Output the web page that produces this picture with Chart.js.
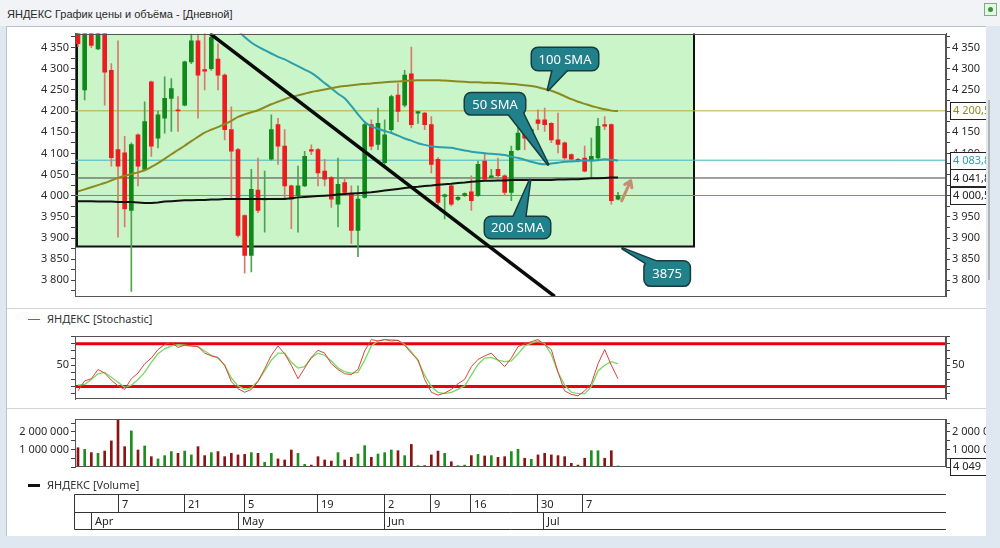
<!DOCTYPE html>
<html lang="ru">
<head>
<meta charset="utf-8">
<title>ЯНДЕКС График цены и объёма</title>
<script src="https://cdn.jsdelivr.net/npm/chart.js@4.4.1/dist/chart.umd.min.js"></script>
<style>
  html, body { margin: 0; padding: 0; }
  body { width: 1000px; height: 548px; overflow: hidden; position: relative; background: #dfe7f1;
         font-family: "Noto Sans", "Open Sans", sans-serif; color: #222; }
  #titleBar { position: absolute; left: 0; top: 0; width: 1000px; height: 26px; background: #f1f3f6; }
  #titleBar span { position: absolute; left: 7px; top: 8px; font-size: 11px; color: #2a2a2a;
                   font-family: "Liberation Sans", "Noto Sans", sans-serif; }
  #appIcon { position: absolute; left: 984px; top: 3px; width: 13px; height: 13px; background: #e9f5e9;
             border: 1px solid #7bb07b; box-sizing: border-box; }
  #appIcon b { position: absolute; left: 3px; top: 3px; width: 5px; height: 5px; background: #2e9b2e; border-radius: 50%; }
  #panel { position: absolute; left: 6px; top: 26px; width: 980px; height: 510px; background: #fff;
           border-top: 1px solid #b9c3ce; border-left: 1px solid #b9c3ce; box-sizing: border-box; }
  .sep { position: absolute; left: 7px; width: 979px; height: 1px; background: #d3d3d3; }
  canvas { position: absolute; left: 0; }
  .legend { position: absolute; font-size: 11px; color: #333; white-space: nowrap; }
  .legend i { display: inline-block; width: 12px; vertical-align: middle; margin-right: 7px; position: relative; top: -1px; }
  #scroll { position: absolute; left: 986px; top: 26px; width: 14px; height: 522px; background: #dfe7f1; }
  #thumb { position: absolute; left: 2px; top: 74px; width: 2px; height: 180px; background: #b5b5b5; }
</style>
</head>
<body>
<div id="titleBar"><span>ЯНДЕКС График цены и объёма - [Дневной]</span><div id="appIcon"><b></b></div></div>
<div id="panel"></div>
<div class="sep" style="top:308px"></div>
<div class="sep" style="top:408px"></div>

<canvas id="priceChart" width="1000" height="280" style="top:25px"></canvas>
<div class="legend" style="left:28px; top:311px"><i style="height:1px;background:#e03a3a"></i>ЯНДЕКС [Stochastic]</div>
<canvas id="stochChart" width="1000" height="82" style="top:326px"></canvas>
<canvas id="volumeChart" width="1000" height="130" style="top:410px"></canvas>
<div class="legend" style="left:28px; top:477px"><i style="height:3px;background:#111"></i>ЯНДЕКС [Volume]</div>
<div id="scroll"><div id="thumb"></div></div>

<script>
// ========== DATA ==========

// дневные свечи, индекс = торговый день (Apr .. Jul)
const candleOpen = [4400, 4250, 4392, 4347, 4392, 4296, 4109, 4101, 3965, 4144,
  4062, 4269, 4136, 4183, 4230, 4203, 4214, 4316, 4366, 4298,
  4300, 4323, 4285, 4156, 4109, 3953, 3859, 4013, 3990, 4086,
  4168, 4117, 4023, 4000, 4023, 4109, 4109, 4058, 4043, 3980,
  4031, 4004, 3918, 3996, 4168, 4121, 4078, 4156, 4238, 4214,
  4288, 4195, 4195, 4168, 4086, 3998, 4023, 3991, 4000, 4009,
  4000, 4082, 4043, 4062, 4047, 4008, 4109, 4148, 4148, 4179,
  4179, 4171, 4132, 4125, 4097, 4086, 4089, 4082, 4089, 4168,
  4168, 3992];
const candleHigh = [4410, 4400, 4400, 4400, 4398, 4312, 4366, 4140, 4125, 4146,
  4222, 4271, 4200, 4281, 4277, 4234, 4318, 4382, 4382, 4390,
  4390, 4359, 4288, 4210, 4112, 3955, 4062, 4089, 4058, 4191,
  4183, 4156, 4025, 4070, 4105, 4120, 4112, 4086, 4045, 4089,
  4043, 4023, 4023, 4175, 4179, 4207, 4179, 4238, 4265, 4296,
  4351, 4199, 4197, 4187, 4090, 4004, 4025, 3998, 4007, 4047,
  4082, 4101, 4062, 4089, 4049, 4117, 4183, 4168, 4160, 4203,
  4207, 4173, 4195, 4127, 4099, 4088, 4117, 4136, 4183, 4187,
  4170, 4008];
const candleLow = [4352, 4226, 4350, 4345, 4214, 4070, 3902, 3926, 3774, 4023,
  4060, 4093, 4113, 4148, 4152, 4152, 4212, 4312, 4183, 4250,
  4296, 4250, 4132, 3996, 3902, 3817, 3820, 3960, 3914, 4084,
  4074, 3992, 3922, 3914, 4021, 4097, 4023, 4023, 3972, 3926,
  4004, 3887, 3856, 3994, 4109, 4109, 4074, 4148, 4175, 4210,
  4160, 4171, 4156, 4054, 3972, 3945, 3976, 3989, 3998, 3965,
  3998, 4037, 4041, 4039, 4000, 3988, 4107, 4109, 4146, 4156,
  4152, 4125, 4101, 4086, 4084, 4080, 4056, 4043, 4086, 4156,
  3980, 3990];
const candleClose = [4359, 4395, 4355, 4395, 4292, 4090, 4070, 3969, 4121, 4070,
  4175, 4117, 4191, 4230, 4253, 4200, 4316, 4366, 4285, 4294,
  4374, 4285, 4156, 4105, 3906, 3859, 4015, 3965, 3992, 4156,
  4117, 4023, 3992, 4023, 4093, 4105, 4054, 4039, 3992, 4027,
  4008, 3918, 3992, 4168, 4117, 4171, 4144, 4234, 4199, 4285,
  4168, 4199, 4168, 4074, 3984, 4002, 3980, 3996, 4005, 3988,
  4074, 4039, 4047, 4047, 4008, 4105, 4148, 4136, 4156, 4171,
  4168, 4132, 4121, 4089, 4086, 4082, 4058, 4093, 4164, 4164,
  3988, 4000];

// скользящие средние
const sma50 = [null, null, null, null, null, null, null, null, null, null,
  null, null, null, null, null, null, null, null, null, null,
  4450, 4435, 4420, 4405, 4390, 4375, 4362, 4352, 4344, 4336,
  4328, 4322, 4314, 4306, 4298, 4290, 4279, 4266, 4254, 4241,
  4230, 4212, 4192, 4174, 4164, 4158, 4153, 4148, 4142, 4135,
  4130, 4124, 4120, 4117, 4115, 4114, 4113, 4110, 4107, 4104,
  4102, 4100, 4099, 4098, 4096, 4092, 4089, 4085, 4080, 4076,
  4074, 4076, 4078, 4080, 4081, 4082, 4083, 4083, 4084, 4086,
  4085, 4083];
const sma100 = [4010, 4015, 4020, 4025, 4030, 4036, 4042, 4047, 4051, 4055,
  4060, 4068, 4077, 4087, 4098, 4108, 4118, 4129, 4139, 4149,
  4156, 4162, 4169, 4177, 4186, 4192, 4197, 4202, 4209, 4216,
  4222, 4228, 4233, 4237, 4241, 4245, 4248, 4251, 4254, 4257,
  4259, 4261, 4263, 4264, 4265, 4267, 4268, 4269, 4270, 4271,
  4272, 4273, 4273, 4273, 4273, 4272, 4271, 4270, 4269, 4268,
  4268, 4267, 4267, 4266, 4265, 4264, 4263, 4261, 4259, 4256,
  4252, 4248, 4242, 4235, 4228, 4222, 4217, 4212, 4208, 4204,
  4201, 4200];
const sma200 = [3987, 3987, 3987, 3986, 3986, 3986, 3985, 3985, 3985, 3984,
  3983, 3983, 3984, 3986, 3987, 3988, 3989, 3989, 3990, 3990,
  3991, 3991, 3992, 3992, 3992, 3992, 3992, 3992, 3992, 3992,
  3992, 3992, 3994, 3996, 3997, 3998, 3999, 4000, 4001, 4003,
  4004, 4005, 4006, 4007, 4008, 4010, 4012, 4014, 4016, 4018,
  4020, 4021, 4023, 4024, 4026, 4027, 4028, 4030, 4031, 4033,
  4034, 4035, 4035, 4036, 4036, 4037, 4037, 4037, 4037, 4037,
  4037, 4037, 4038, 4038, 4039, 4039, 4040, 4041, 4041, 4042,
  4043, 4043];

// стохастик %K / %D
const stochK = [14, 28, 31, 44, 39, 29, 21, 16, 31, 39,
  52, 60, 72, 79, 82, 75, 78, 77, 76, 67,
  63, 61, 50, 27, 17, 12, 16, 27, 45, 64,
  77, 66, 50, 31, 46, 61, 71, 67, 52, 44,
  38, 37, 44, 70, 86, 84, 86, 84, 85, 78,
  67, 58, 30, 12, 8, 11, 16, 24, 30, 48,
  58, 63, 67, 57, 48, 60, 76, 80, 83, 86,
  79, 72, 40, 14, 9, 7, 14, 24, 52, 72,
  50, 31];
const stochD = [22, 23, 30, 38, 40, 33, 26, 19, 22, 30,
  40, 54, 66, 73, 77, 79, 78, 77, 76, 70,
  64, 60, 50, 32, 21, 16, 18, 28, 42, 57,
  67, 67, 54, 46, 48, 60, 67, 64, 56, 46,
  41, 39, 40, 57, 77, 84, 86, 86, 85, 79,
  69, 56, 36, 20, 12, 10, 12, 16, 21, 36,
  51, 60, 61, 57, 55, 56, 66, 77, 81, 84,
  80, 65, 40, 22, 12, 10, 10, 20, 42, 50,
  55, 52];
const stochLevels = [80, 20];
const stochTicks = [10, 20, 30, 40, 50, 60, 70, 80, 90];

// объём
const volume = [1100000, 1010000, 820000, 780000, 910000, 1490000, 2720000, 1160000, 2060000, 970000,
  1200000, 590000, 460000, 650000, 880000, 780000, 910000, 690000, 1160000, 650000,
  820000, 880000, 590000, 780000, 690000, 720000, 820000, 780000, 270000, 780000,
  460000, 400000, 970000, 780000, 150000, 110000, 590000, 400000, 340000, 820000,
  400000, 550000, 740000, 1220000, 550000, 740000, 820000, 970000, 930000, 650000,
  1290000, 80000, 80000, 690000, 910000, 780000, 300000, 80000, 110000, 650000,
  720000, 630000, 650000, 550000, 590000, 880000, 1010000, 500000, 440000, 690000,
  780000, 690000, 650000, 590000, 210000, 110000, 500000, 930000, 930000, 500000,
  930000, 60000];
const volumeTicks = [0, 500000, 1000000, 1500000, 2000000, 2500000];
const volumeLabels = [1000000, 2000000];
const lastVolumeLabel = 4049;

// горизонтальные уровни и отметки на правой шкале
const levelValues = [4200.5, 4083.8, 4041.8, 4000.5];

// зона (прямоугольник) и трендовая линия
const zoneIdx = [-0.15, 92.4];
const zoneBottom = 3880;
const trendIdx = [19.8, 71.5];
const trendPrice = [4383, 3762];

// выноски
const calloutText = ['100 SMA', '50 SMA', '200 SMA', '3875'];
const calloutIdx = [70.5, 70.5, 67.8, 81.7];
const calloutPrice = [4250, 4074, 4037, 3875];
const arrowIdx = [81.55, 82.9];
const arrowPrice = [3988, 4035];

// шкала дат
const dayTickLabels = ['7', '21', '5', '19', '2', '9', '16', '30', '7'];
const dayTickIdx = [6, 15.9, 24.9, 35.9, 45.9, 52.8, 58.8, 68.9, 75.6];
const monthLabels = ['Apr', 'May', 'Jun', 'Jul'];
const monthIdx = [1.95, 24, 45.9, 69.75];

// ========== STYLE ==========

const FONT = '"Noto Sans", "Open Sans", sans-serif';
const X_MIN = -0.45, X_MAX = 130.2;
const LEFT_W = 75, RIGHT_W = 54;
const UP = '#12881a', DOWN = '#ec1c1f';
const UP_WICK = '#4fa24f', DOWN_WICK = '#d9786b';
const levelLineColors = ['#b3ac3e', '#45b6c2', '#444444', '#e0634f'];
const levelTextColors = ['#8f8a1c', '#2aa2b0', '#222222', '#222222'];

const isUp = i => candleClose[i] >= candleOpen[i];
const fmtInt = v => Math.round(v).toString().replace(/\B(?=(\d{3})+(?!\d))/g, ' ');
const fmtDec = v => {
  const [a, b] = v.toFixed(1).split('.');
  return fmtInt(Number(a)) + ',' + b;
};

function hLine(value, color, width) {
  return {
    type: 'line', data: [{ x: X_MIN, y: value }, { x: X_MAX, y: value }],
    borderColor: color, borderWidth: width, pointRadius: 0, order: 8
  };
}

// боковая шкала; tickValues — явный список делений
function sideAxis(position, min, max, tickValues, labelFn) {
  return {
    position, min, max,
    afterFit: s => { s.width = position === 'left' ? LEFT_W : RIGHT_W; },
    afterBuildTicks: s => { s.ticks = tickValues.map(v => ({ value: v })); },
    ticks: {
      autoSkip: false, padding: 2,
      color: '#2b2b2b', font: { family: FONT, size: 11 },
      callback: labelFn
    },
    grid: { drawOnChartArea: false, drawTicks: true, tickLength: 4, color: '#444' },
    border: { display: true, color: '#555' }
  };
}

const priceTicks = [];
for (let v = 3775; v <= 4375; v += 25) priceTicks.push(v);

const framePlugin = {
  id: 'frame',
  afterDraw(chart) {
    const { ctx, chartArea: a } = chart;
    ctx.save();
    ctx.strokeStyle = '#555';
    ctx.lineWidth = 1;
    ctx.strokeRect(Math.round(a.left) + 0.5, Math.round(a.top) + 0.5,
      Math.round(a.right - a.left) - 1, Math.round(a.bottom - a.top) - 1);
    ctx.restore();
  }
};

function valueBox(ctx, x, y, text, color) {
  ctx.fillStyle = '#fff';
  ctx.fillRect(x, y - 8.5, 44, 17);
  ctx.strokeStyle = '#222';
  ctx.lineWidth = 1;
  ctx.strokeRect(x + 0.5, Math.round(y - 8.5) + 0.5, 44, 17);
  ctx.fillStyle = color;
  ctx.font = '11px ' + FONT;
  ctx.textBaseline = 'middle';
  ctx.textAlign = 'left';
  ctx.fillText(text, x + 3, y + 0.5);
}

// геометрия выносок относительно острия (px)
const calloutShape = [
  { dx: -16, dy: -42, w: 66, h: 22, base: [[5, -21], [20, -21]] },
  { dx: -83, dy: -71, w: 60, h: 21, base: [[-40, -51], [-26, -53]] },
  { dx: -45, dy: 37, w: 65, h: 21, base: [[-17, 38], [-5, 38]] },
  { dx: 22, dy: 13, w: 45, h: 24, base: [[24, 15], [39, 15]] }
];

function drawCallout(ctx, tx, ty, shape, text) {
  const box = new Path2D();
  box.roundRect(tx + shape.dx, ty + shape.dy, shape.w, shape.h, 6);
  const tri = new Path2D();
  tri.moveTo(tx + shape.base[0][0], ty + shape.base[0][1]);
  tri.lineTo(tx, ty);
  tri.lineTo(tx + shape.base[1][0], ty + shape.base[1][1]);
  tri.closePath();
  ctx.lineJoin = 'round';
  ctx.lineWidth = 3;
  ctx.strokeStyle = '#173b3e';
  ctx.stroke(box);
  ctx.stroke(tri);
  ctx.fillStyle = '#21808a';
  ctx.fill(box);
  ctx.fill(tri);
  ctx.fillStyle = '#fff';
  ctx.font = '13px ' + FONT;
  ctx.textAlign = 'center';
  ctx.textBaseline = 'middle';
  ctx.fillText(text, tx + shape.dx + shape.w / 2, ty + shape.dy + shape.h / 2 + 1);
}

const priceOverlay = {
  id: 'priceOverlay',
  afterDatasetsDraw(chart) {
    const { ctx, scales: { x, y } } = chart;
    ctx.save();
    calloutText.forEach((t, k) => {
      drawCallout(ctx, x.getPixelForValue(calloutIdx[k]), y.getPixelForValue(calloutPrice[k]), calloutShape[k], t);
    });
    // стрелка вверх
    const x1 = x.getPixelForValue(arrowIdx[0]), y1 = y.getPixelForValue(arrowPrice[0]);
    const x2 = x.getPixelForValue(arrowIdx[1]), y2 = y.getPixelForValue(arrowPrice[1]);
    const ang = Math.atan2(y2 - y1, x2 - x1);
    ctx.strokeStyle = '#c98b72';
    ctx.lineWidth = 3;
    ctx.lineCap = 'round';
    ctx.beginPath();
    ctx.moveTo(x1, y1); ctx.lineTo(x2, y2);
    ctx.moveTo(x2 - 7 * Math.cos(ang - 0.6), y2 - 7 * Math.sin(ang - 0.6));
    ctx.lineTo(x2, y2);
    ctx.lineTo(x2 - 7 * Math.cos(ang + 0.6), y2 - 7 * Math.sin(ang + 0.6));
    ctx.stroke();
    ctx.restore();
  },
  afterDraw(chart) {
    const { ctx, chartArea: a, scales: { y } } = chart;
    ctx.save();
    levelValues.forEach((v, k) => valueBox(ctx, a.right + 4, y.getPixelForValue(v), fmtDec(v), levelTextColors[k]));
    ctx.restore();
  }
};

// ========== PRICE ==========

const idx = candleOpen.map((_, i) => i);
const priceLabel = v => v % 50 === 0 ? fmtInt(v) : '';

new Chart(document.getElementById('priceChart'), {
  type: 'bar',
  data: {
    datasets: [
      {
        type: 'line', order: 10, pointRadius: 0, borderWidth: 0,
        data: [{ x: zoneIdx[0], y: 4500 }, { x: zoneIdx[1], y: 4500 }],
        fill: { value: zoneBottom }, backgroundColor: '#c9f5c9'
      },
      {
        type: 'line', order: 9, pointRadius: 0, borderWidth: 2, borderColor: '#111',
        data: [{ x: zoneIdx[0], y: 4500 }, { x: zoneIdx[0], y: zoneBottom },
               { x: zoneIdx[1], y: zoneBottom }, { x: zoneIdx[1], y: 4500 }]
      },
      ...levelValues.map((v, k) => hLine(v, levelLineColors[k], 1)),
      {
        order: 6, grouped: false, barThickness: 1, clip: 0,
        data: idx.map(i => ({ x: i, y: [candleLow[i], candleHigh[i]] })),
        backgroundColor: idx.map(i => isUp(i) ? UP_WICK : DOWN_WICK)
      },
      {
        order: 5, grouped: false, barThickness: 4, minBarLength: 1, clip: 0,
        data: idx.map(i => ({ x: i, y: [candleOpen[i], candleClose[i]] })),
        backgroundColor: idx.map(i => isUp(i) ? UP : DOWN)
      },
      {
        type: 'line', order: 3, pointRadius: 0, borderWidth: 2, borderColor: '#8c8a1f',
        data: sma100.map((v, i) => ({ x: i, y: v })), cubicInterpolationMode: 'monotone'
      },
      {
        type: 'line', order: 3, pointRadius: 0, borderWidth: 2, borderColor: '#2c9fae',
        data: sma50.map((v, i) => ({ x: i, y: v })), cubicInterpolationMode: 'monotone'
      },
      {
        type: 'line', order: 3, pointRadius: 0, borderWidth: 2, borderColor: '#111',
        data: sma200.map((v, i) => ({ x: i, y: v }))
      },
      {
        type: 'line', order: 1, pointRadius: 0, borderWidth: 3.5, borderColor: '#0a0a0a',
        data: trendIdx.map((v, k) => ({ x: v, y: trendPrice[k] }))
      }
    ]
  },
  options: {
    responsive: false, animation: false,
    layout: { padding: { top: 8, bottom: 7, left: 0, right: 0 } },
    plugins: { legend: { display: false }, tooltip: { enabled: false } },
    scales: {
      x: { type: 'linear', min: X_MIN, max: X_MAX, offset: false, display: false },
      y: sideAxis('left', 3762, 4383, priceTicks, priceLabel),
      y2: sideAxis('right', 3762, 4383, priceTicks, priceLabel)
    }
  },
  plugins: [framePlugin, priceOverlay]
});

// ========== STOCHASTIC ==========

const stochLabel = v => v === 50 ? '50' : '';

new Chart(document.getElementById('stochChart'), {
  type: 'line',
  data: {
    datasets: [
      ...stochLevels.map(v => hLine(v, '#e8000b', 3)),
      { order: 2, pointRadius: 0, borderWidth: 1.3, borderColor: '#72dd5f', data: stochD.map((v, i) => ({ x: i, y: v })) },
      { order: 1, pointRadius: 0, borderWidth: 1, borderColor: '#e2413c', data: stochK.map((v, i) => ({ x: i, y: v })) }
    ]
  },
  options: {
    responsive: false, animation: false,
    layout: { padding: { top: 10, bottom: 8, left: 0, right: 0 } },
    plugins: { legend: { display: false }, tooltip: { enabled: false } },
    scales: {
      x: { type: 'linear', min: X_MIN, max: X_MAX, display: false },
      y: sideAxis('left', 2, 91, stochTicks, stochLabel),
      y2: sideAxis('right', 2, 91, stochTicks, stochLabel)
    }
  },
  plugins: [framePlugin]
});

// ========== VOLUME + DATE AXIS ==========

const dateAxisPlugin = {
  id: 'dateAxis',
  afterDraw(chart) {
    const { ctx, chartArea: a, scales: { x } } = chart;
    const r1 = a.bottom + 27.5, r2 = a.bottom + 45.5, r3 = a.bottom + 62.5;
    const left = Math.round(a.left) - 0.5, right = Math.round(a.right);
    ctx.save();
    ctx.strokeStyle = '#333';
    ctx.lineWidth = 1;
    ctx.beginPath();
    [r1, r2, r3].forEach(r => { ctx.moveTo(left, r); ctx.lineTo(right, r); });
    ctx.moveTo(left, r1); ctx.lineTo(left, r3);
    dayTickIdx.forEach(d => {
      const px = Math.round(x.getPixelForValue(d)) + 0.5;
      ctx.moveTo(px, r1); ctx.lineTo(px, r2);
    });
    monthIdx.forEach(d => {
      const px = Math.round(x.getPixelForValue(d)) + 0.5;
      ctx.moveTo(px, r2); ctx.lineTo(px, r3);
    });
    ctx.stroke();
    ctx.fillStyle = '#222';
    ctx.font = '11px ' + FONT;
    ctx.textBaseline = 'middle';
    ctx.textAlign = 'left';
    dayTickLabels.forEach((t, k) => ctx.fillText(t, Math.round(x.getPixelForValue(dayTickIdx[k])) + 4, (r1 + r2) / 2 + 1));
    monthLabels.forEach((t, k) => ctx.fillText(t, Math.round(x.getPixelForValue(monthIdx[k])) + 4, (r2 + r3) / 2 + 1));
    // последнее значение на правой шкале
    valueBox(ctx, a.right + 4, a.bottom - 1, fmtInt(lastVolumeLabel), '#222');
    ctx.restore();
  }
};

const volumeLabel = v => volumeLabels.includes(v) ? fmtInt(v) : '';

new Chart(document.getElementById('volumeChart'), {
  type: 'bar',
  data: {
    datasets: [{
      barThickness: 2, clip: 0,
      data: idx.map(i => ({ x: i, y: volume[i] })),
      backgroundColor: idx.map(i => isUp(i) ? '#1e8f1e' : '#8c1414')
    }]
  },
  options: {
    responsive: false, animation: false,
    layout: { padding: { top: 9, bottom: 73, left: 0, right: 0 } },
    plugins: { legend: { display: false }, tooltip: { enabled: false } },
    scales: {
      x: { type: 'linear', min: X_MIN, max: X_MAX, offset: false, display: false },
      y: sideAxis('left', 0, 2740000, volumeTicks, volumeLabel),
      y2: sideAxis('right', 0, 2740000, volumeTicks, volumeLabel)
    }
  },
  plugins: [framePlugin, dateAxisPlugin]
});
</script>
</body>
</html>
